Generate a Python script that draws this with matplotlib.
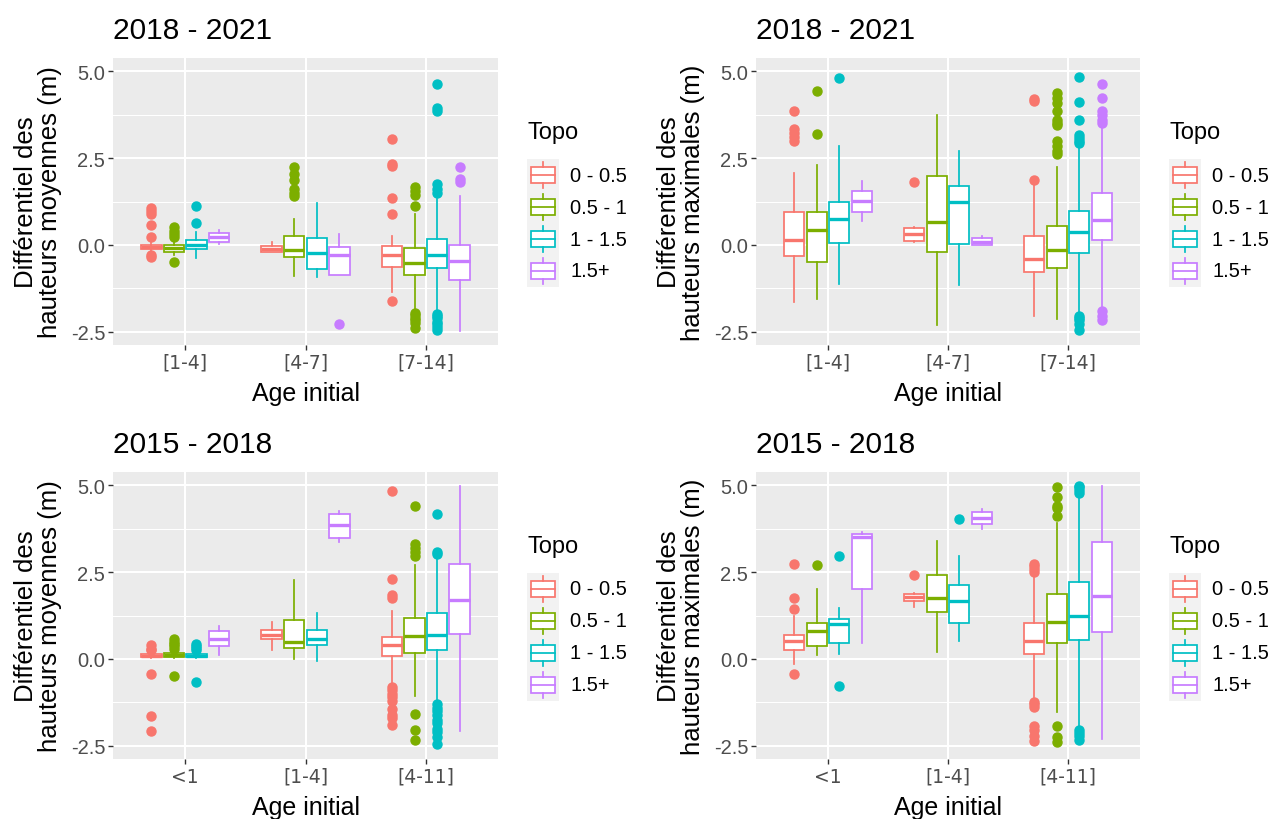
import matplotlib
matplotlib.use("Agg")
import matplotlib.pyplot as plt
from matplotlib.patches import Rectangle

plt.rcParams['font.family'] = ['Liberation Sans', 'DejaVu Sans']
plt.rcParams['axes.unicode_minus'] = False

# ---- data ----
TOPO = ["0 - 0.5", "0.5 - 1", "1 - 1.5", "1.5+"]
COLORS = ["#F8766D", "#7CAE00", "#00BFC4", "#C77CFF"]
AGE_2021 = ["[1-4]", "[4-7]", "[7-14]"]
AGE_2018 = ["<1", "[1-4]", "[4-11]"]
YTICKS = [-2.5, 0.0, 2.5, 5.0]
YTICK_LABELS = ["-2.5", "0.0", "2.5", "5.0"]

# 2018 - 2021, hauteurs moyennes  (rows = age class, cols = topo class)
MOY21_Q1 = [[-0.12, -0.19, -0.11, 0.10], [-0.21, -0.35, -0.70, -0.85], [-0.64, -0.86, -0.66, -1.02]]
MOY21_MED = [[-0.06, -0.09, 0.01, 0.22], [-0.11, -0.14, -0.24, -0.30], [-0.30, -0.51, -0.30, -0.45]]
MOY21_Q3 = [[0.00, 0.00, 0.15, 0.34], [-0.02, 0.25, 0.19, -0.07], [-0.04, -0.09, 0.17, 0.00]]
MOY21_LO = [[-0.20, -0.30, -0.38, 0.03], [-0.21, -0.88, -0.92, -0.85], [-1.34, -1.88, -1.88, -2.47]]
MOY21_HI = [[0.10, 0.14, 0.36, 0.44], [0.08, 0.76, 1.22, 0.31], [0.25, 0.89, 1.31, 1.41]]
MOY21_OUT = [
    [[1.05, 0.98, 0.90, 0.57, 0.24, -0.29, -0.35], [0.52, 0.41, 0.31, 0.22, -0.50], [1.12, 0.63], []],
    [[], [2.24, 2.03, 1.86, 1.60, 1.50, 1.41], [], [-2.28]],
    [[3.06, 2.34, 2.27, 1.36, 0.89, -1.61],
     [1.66, 1.55, 1.43, 1.13, -1.95, -2.02, -2.10, -2.16, -2.25, -2.40],
     [4.62, 3.93, 3.84, 1.74, 1.60, 1.48, -1.97, -2.04, -2.11, -2.20, -2.26, -2.35, -2.45],
     [2.25, 1.91, 1.81]],
]

# 2018 - 2021, hauteurs maximales
MAX21_Q1 = [[-0.33, -0.50, 0.05, 0.96], [0.12, -0.21, 0.03, 0.00], [-0.78, -0.66, -0.23, 0.15]]
MAX21_MED = [[0.14, 0.44, 0.76, 1.27], [0.31, 0.65, 1.24, 0.10], [-0.40, -0.15, 0.36, 0.72]]
MAX21_Q3 = [[0.96, 0.95, 1.24, 1.56], [0.50, 1.97, 1.70, 0.19], [0.27, 0.56, 0.98, 1.49]]
MAX21_LO = [[-1.64, -1.55, -1.11, 0.70], [0.10, -2.29, -1.16, 0.00], [-2.05, -2.13, -1.99, -1.85]]
MAX21_HI = [[2.07, 2.29, 2.85, 1.85], [0.52, 3.75, 2.69, 0.25], [1.75, 2.23, 2.82, 3.40]]
MAX21_OUT = [
    [[3.85, 3.32, 3.22, 3.09, 2.98], [4.44, 3.20], [4.81], []],
    [[1.81], [], [], []],
    [[4.21, 4.15, 1.87],
     [4.37, 4.23, 4.09, 3.85, 3.60, 3.51, 3.45, 2.99, 2.85, 2.70, 2.61],
     [4.82, 4.10, 3.58, 3.15, 3.08, 3.00, 2.92, -2.04, -2.10, -2.17, -2.28, -2.45],
     [4.62, 4.22, 3.85, 3.75, 3.60, 3.50, -1.90, -2.05, -2.15]],
]

# 2015 - 2018, hauteurs moyennes
MOY18_Q1 = [[0.05, 0.05, 0.05, 0.36], [0.58, 0.32, 0.39, 3.49], [0.09, 0.17, 0.27, 0.73]]
MOY18_MED = [[0.10, 0.11, 0.10, 0.58], [0.70, 0.49, 0.58, 3.84], [0.41, 0.65, 0.68, 1.70]]
MOY18_Q3 = [[0.15, 0.17, 0.15, 0.80], [0.82, 1.13, 0.82, 4.18], [0.63, 1.19, 1.32, 2.72]]
MOY18_LO = [[0.02, 0.02, 0.02, 0.12], [0.27, 0.01, -0.06, 3.36], [-0.71, -1.06, -1.22, -2.08]]
MOY18_HI = [[0.20, 0.22, 0.20, 0.95], [1.06, 2.26, 1.32, 4.24], [1.37, 2.69, 2.90, 4.97]]
MOY18_OUT = [
    [[0.39, 0.30, 0.25, -0.42, -1.65, -2.07], [0.58, 0.50, 0.44, 0.38, 0.30, -0.49],
     [0.44, 0.38, 0.32, 0.26, -0.66], []],
    [[], [], [], []],
    [[4.82, 2.29, 1.85, 1.75, -0.80, -0.90, -1.00, -1.10, -1.20, -1.45, -1.60, -1.71, -1.91],
     [4.40, 3.31, 3.19, 3.07, 2.96, -1.59, -2.05, -2.32],
     [4.18, 3.07, 3.02, -1.30, -1.40, -1.50, -1.60, -1.75, -1.85, -2.00, -2.10, -2.25, -2.43],
     []],
]

# 2015 - 2018, hauteurs maximales
MAX18_Q1 = [[0.25, 0.37, 0.47, 2.00], [1.67, 1.35, 1.03, 3.87], [0.15, 0.45, 0.56, 0.78]]
MAX18_MED = [[0.51, 0.81, 1.01, 3.50], [1.78, 1.75, 1.66, 4.05], [0.51, 1.05, 1.25, 1.82]]
MAX18_Q3 = [[0.70, 1.04, 1.14, 3.60], [1.88, 2.40, 2.14, 4.22], [1.04, 1.88, 2.21, 3.36]]
MAX18_LO = [[-0.15, 0.11, 0.15, 0.47], [1.48, 0.20, 0.51, 3.75], [-1.15, -1.53, -2.00, -2.30]]
MAX18_HI = [[1.25, 2.02, 1.47, 3.65], [1.90, 3.38, 2.95, 4.32], [2.35, 3.90, 4.70, 4.98]]
MAX18_OUT = [
    [[2.74, 1.76, 1.45, -0.44], [2.71], [2.96, -0.78], []],
    [[2.40], [], [4.01], []],
    [[2.74, 2.66, 2.58, 2.50, -1.24, -1.30, -1.38, -1.92, -2.05, -2.20, -2.35],
     [4.93, 4.67, 4.41, 4.33, 4.10, -1.93, -2.25, -2.39],
     [4.98, 4.93, 4.85, 4.78, -2.05, -2.12, -2.20, -2.33],
     []],
]

W, H = 1270, 820
fig = plt.figure(figsize=(W / 100, H / 100), dpi=100)

LINE_W = 1.25


def px_axes(x0, y0, x1, y1):
    return fig.add_axes([x0 / W, 1 - y1 / H, (x1 - x0) / W, (y1 - y0) / H])


def draw_panel(ax, cats, q1, med, q3, lo, hi, out):
    ax.set_facecolor("#EBEBEB")
    for sp in ax.spines.values():
        sp.set_visible(False)
    ax.set_axisbelow(True)
    for g in range(len(cats)):
        for s, c in enumerate(COLORS):
            st = dict(q1=q1[g][s], med=med[g][s], q3=q3[g][s],
                      whislo=lo[g][s], whishi=hi[g][s], fliers=out[g][s])
            ax.bxp([st], positions=[g + 1 + (s - 1.5) * 0.1875], widths=0.17,
                   patch_artist=True, showcaps=False, manage_ticks=False,
                   boxprops=dict(facecolor="white", edgecolor=c, linewidth=LINE_W),
                   whiskerprops=dict(color=c, linewidth=LINE_W),
                   medianprops=dict(color=c, linewidth=2.4, solid_capstyle="butt"),
                   flierprops=dict(marker="o", markerfacecolor=c, markeredgecolor=c,
                                   markersize=6.5, linestyle="none"))
    ax.set_xlim(0.4, len(cats) + 0.6)
    ax.set_ylim(-2.875, 5.375)
    ax.set_xticks(range(1, len(cats) + 1))
    ax.set_xticklabels(cats, family="DejaVu Sans", fontsize=13.5, color="#4D4D4D")
    ax.set_yticks(YTICKS)
    ax.set_yticklabels(YTICK_LABELS, fontsize=14.5, color="#4D4D4D")
    ax.set_yticks([-1.25, 1.25, 3.75], minor=True)
    ax.grid(which="major", color="white", linewidth=1.5)
    ax.grid(which="minor", axis="y", color="white", linewidth=0.75)
    ax.tick_params(which="major", length=3.5, width=1.0, color="#333333", pad=2)
    ax.tick_params(which="minor", length=0)


panels = [
    ((113, 59, 498, 346), AGE_2021, MOY21_Q1, MOY21_MED, MOY21_Q3, MOY21_LO, MOY21_HI, MOY21_OUT,
     "2018 - 2021", "Différentiel des\nhauteurs moyennes (m)"),
    ((756, 59, 1140, 346), AGE_2021, MAX21_Q1, MAX21_MED, MAX21_Q3, MAX21_LO, MAX21_HI, MAX21_OUT,
     "2018 - 2021", "Différentiel des\nhauteurs maximales (m)"),
    ((113, 473, 498, 760), AGE_2018, MOY18_Q1, MOY18_MED, MOY18_Q3, MOY18_LO, MOY18_HI, MOY18_OUT,
     "2015 - 2018", "Différentiel des\nhauteurs moyennes (m)"),
    ((756, 473, 1140, 760), AGE_2018, MAX18_Q1, MAX18_MED, MAX18_Q3, MAX18_LO, MAX18_HI, MAX18_OUT,
     "2015 - 2018", "Différentiel des\nhauteurs maximales (m)"),
]

axes = []
for box, cats, q1, med, q3, lo, hi, out, title, ylab in panels:
    ax = px_axes(*box)
    draw_panel(ax, cats, q1, med, q3, lo, hi, out)
    axes.append(ax)

# overlay in pixel coordinates for titles, axis titles and legends
ov = fig.add_axes([0, 0, 1, 1], facecolor="none")
ov.set_xlim(0, W)
ov.set_ylim(H, 0)
ov.axis("off")

for box, cats, q1, med, q3, lo, hi, out, title, ylab in panels:
    x0, y0, x1, y1 = box
    ov.text(x0, y0 - 28, title, fontsize=21.5, ha="left", va="center", color="black")
    ov.text(x0 - 75, (y0 + y1) / 2, ylab, fontsize=18.5, rotation=90, ha="center",
            va="center", multialignment="center", linespacing=1.05, color="black")
    ov.text((x0 + x1) / 2, y1 + 48, "Age initial", fontsize=18, ha="center",
            va="center", color="black")

    # legend
    lx = x1 + 29
    ov.text(lx, y0 + 74, "Topo", fontsize=17, ha="left", va="center", color="black")
    ky0 = y0 + 101
    ov.add_patch(Rectangle((lx, ky0), 32, 32 * len(TOPO), facecolor="#F2F2F2",
                           edgecolor="none"))
    for i, (lab, c) in enumerate(zip(TOPO, COLORS)):
        cy = ky0 + 16 + 32 * i
        cx = lx + 16
        ov.plot([cx, cx], [cy - 13, cy - 8], color=c, lw=LINE_W)
        ov.plot([cx, cx], [cy + 8, cy + 13], color=c, lw=LINE_W)
        ov.add_patch(Rectangle((lx + 4, cy - 8), 24, 16, facecolor="white",
                               edgecolor=c, linewidth=LINE_W))
        ov.plot([lx + 4, lx + 28], [cy, cy], color=c, lw=LINE_W)
        ov.text(lx + 43, cy, lab, fontsize=14.5, ha="left", va="center", color="black")

fig.savefig("out.png", dpi=100)
